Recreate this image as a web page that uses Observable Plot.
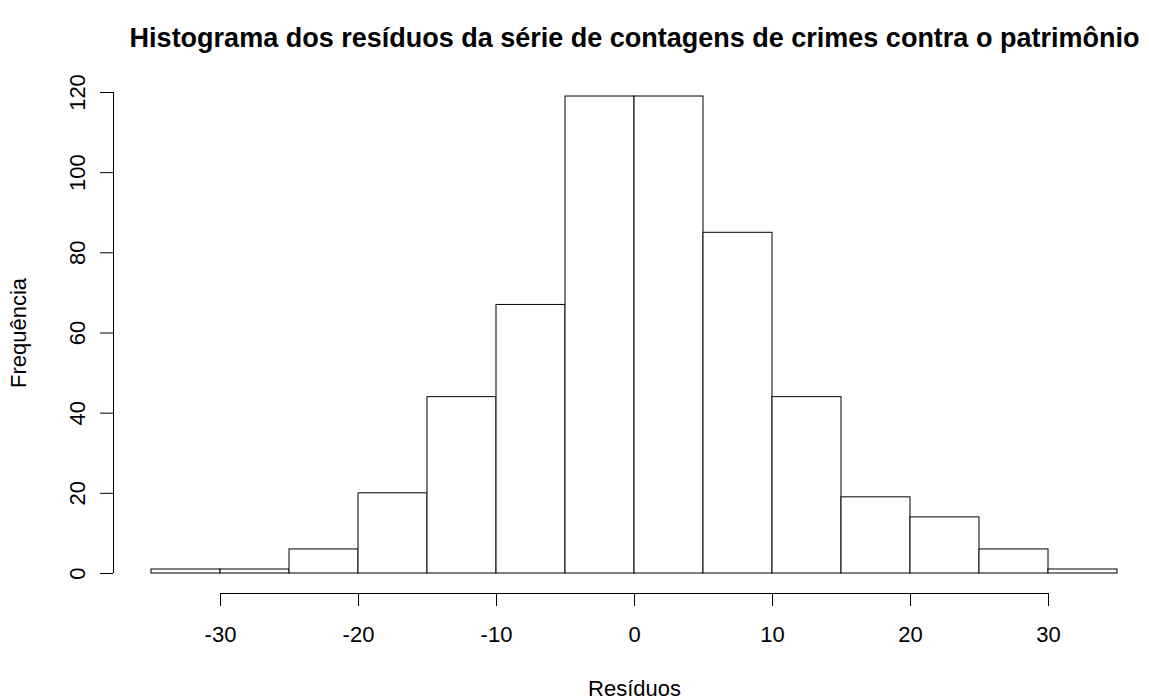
<!DOCTYPE html>
<html>
<head>
<meta charset="utf-8">
<script src="https://cdn.jsdelivr.net/npm/d3@7"></script>
<script src="https://cdn.jsdelivr.net/npm/@observablehq/plot@0.6"></script>
<style>
  html, body { margin: 0; padding: 0; background: #ffffff; }
  #chart { width: 1149px; height: 700px; }
</style>
</head>
<body>
<div id="chart"></div>
<script>
// ---- data ----
const binEdges = [-35, -30, -25, -20, -15, -10, -5, 0, 5, 10, 15, 20, 25, 30, 35];
const counts   = [1, 1, 6, 20, 44, 67, 119, 119, 85, 44, 19, 14, 6, 1];
const xTicks   = [-30, -20, -10, 0, 10, 20, 30];
const yTicks   = [0, 20, 40, 60, 80, 100, 120];
const titleText = "Histograma dos resíduos da série de contagens de crimes contra o patrimônio";
const xLabel = "Resíduos";
const yLabel = "Frequência";

const bins = counts.map((c, i) => ({x1: binEdges[i], x2: binEdges[i + 1], count: c}));
const xAxisLine = [{y: 0, x1: d3.min(xTicks), x2: d3.max(xTicks)}];
const yAxisLine = [{x: d3.min(binEdges), y1: d3.min(yTicks), y2: d3.max(yTicks)}];
const plainFormat = (d) => String(d);

const chart = Plot.plot({
  width: 1149,
  height: 700,
  marginLeft: 151,
  marginRight: 32,
  marginTop: 92,
  marginBottom: 127,
  style: {fontFamily: "'Liberation Sans', Arial, sans-serif", fontSize: "22px", background: "#ffffff", color: "#000000"},
  x: {domain: [d3.min(binEdges), d3.max(binEdges)], axis: null},
  y: {domain: [0, d3.max(yTicks)], axis: null},
  marks: [
    Plot.rectY(bins, {x1: "x1", x2: "x2", y: "count", fill: "#ffffff", stroke: "#000000", strokeWidth: 1}),
    // x axis (offset below the plot, R style)
    Plot.ruleY(xAxisLine, {y: "y", x1: "x1", x2: "x2", dy: 20, stroke: "#000000"}),
    Plot.axisX(xTicks, {tickSize: 13, tickPadding: 20, dy: 20, fontSize: 22, tickFormat: plainFormat, stroke: "#000000", fill: "#000000"}),
    // y axis (offset left of the plot, rotated labels)
    Plot.ruleX(yAxisLine, {x: "x", y1: "y1", y2: "y2", dx: -38, stroke: "#000000"}),
    Plot.axisY(yTicks, {tickSize: 13, tickPadding: 16, tickRotate: -90, dx: -38, fontSize: 22, tickFormat: plainFormat, stroke: "#000000", fill: "#000000"}),
    // titles
    Plot.text([titleText], {frameAnchor: "top", textAnchor: "middle", lineAnchor: "middle", dy: -54, fontSize: 27, fontWeight: "bold", fill: "#000000"}),
    Plot.text([xLabel], {frameAnchor: "bottom", textAnchor: "middle", lineAnchor: "middle", dy: 115, fontSize: 22, fill: "#000000"}),
    Plot.text([yLabel], {frameAnchor: "left", textAnchor: "middle", lineAnchor: "middle", rotate: -90, dx: -133, fontSize: 22, fill: "#000000"})
  ]
});
document.getElementById("chart").appendChild(chart);
</script>
</body>
</html>
